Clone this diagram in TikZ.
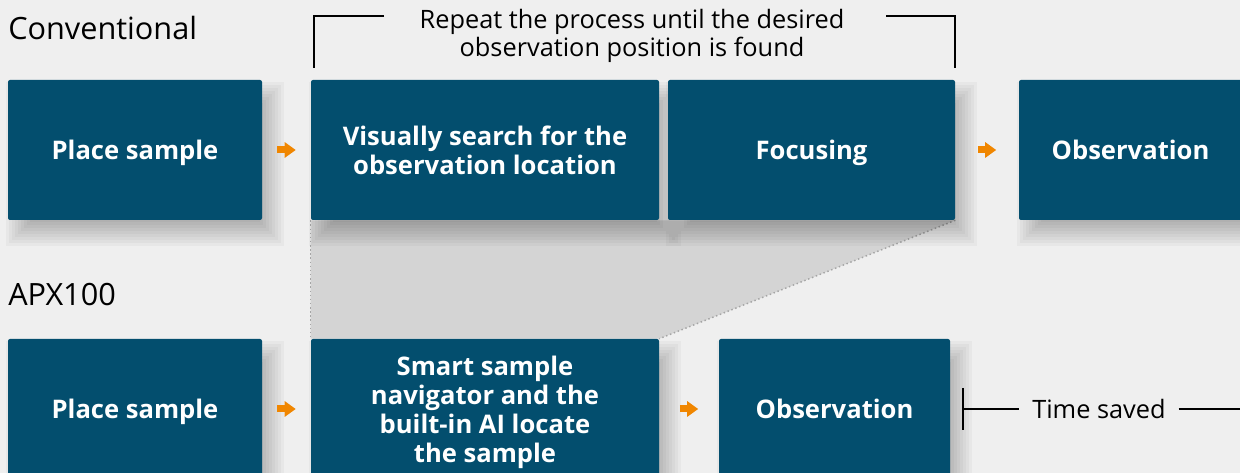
\documentclass[tikz,border=0pt]{standalone}
\usepackage{fontspec}
\setmainfont{Open Sans}
\usetikzlibrary{arrows.meta,calc,backgrounds}
\definecolor{BoxBlue}{RGB}{3,78,110}
\definecolor{StepOrange}{RGB}{240,134,0}
\definecolor{PageGray}{RGB}{239,239,239}
\definecolor{ZoomGray}{RGB}{212,212,212}
\definecolor{DotGray}{RGB}{165,165,165}

\tikzset{
  stepbox/.style={fill=BoxBlue, text=white, rounded corners=1.5pt, inner sep=0pt,
    minimum height=105pt, text depth=0pt, align=center, font=\fontsize{19.2}{21.75}\selectfont\bfseries},
  flowarrow/.style={StepOrange, line width=5.25pt, -{Triangle[width=11.25pt,length=8.25pt]},
    shorten <=#1, shorten >=#1},
  rowlabel/.style={anchor=west, inner sep=0pt, font=\fontsize{23}{27}\selectfont},
  note/.style={inner sep=0pt, align=center, font=\fontsize{19}{21}\selectfont},
  bracketline/.style={line width=1.7pt},
}

\begin{document}
\begin{tikzpicture}[x=0.75pt,y=0.75pt,yscale=-1,xscale=1]
  \useasboundingbox (0,0) rectangle (1240,473);
  \clip (0,0) rectangle (1240,473);

  % Text Node
  \node [rowlabel] (conv) at (8,28) {Conventional};
  % Text Node
  \node [rowlabel] (apx) at (8,295) {APX100};

  %Shape: Rectangle (conventional row)
  \node [stepbox, minimum width=190.5pt] (place1) at (135,150) {Place sample};
  \node [stepbox, minimum width=261pt] (search) at (485,150) {Visually search for the\\observation location};
  \node [stepbox, minimum width=215.25pt] (focus) at (811.5,150) {Focusing};
  \node [stepbox, minimum width=167.25pt] (obs1) at (1130.5,150) {Observation};

  %Shape: Rectangle (APX100 row)
  \node [stepbox, minimum width=190.5pt] (place2) at (135,409) {Place sample};
  \node [stepbox, minimum width=261pt] (smart) at (485,409) {Smart sample\\navigator and the\\built-in AI locate\\the sample};
  \node [stepbox, minimum width=173.25pt] (obs2) at (834.5,409) {Observation};

  %Straight Lines (orange arrows)
  \draw [flowarrow=11.25pt] (place1.east) -- (search.west) ;
  \draw [flowarrow=16.9pt] (focus.east) -- (obs1.west) ;
  \draw [flowarrow=11.25pt] (place2.east) -- (smart.west) ;
  \draw [flowarrow=15.4pt] (smart.east) -- (obs2.west) ;

  % Text Node
  \node [note] (repeat) at (632,36) {Repeat the process until the desired\\observation position is found};
  %Straight Lines
  \draw [bracketline] (384,16) -| (314,68) ;
  \draw [bracketline] (886,16) -| (955,68) ;

  % Text Node
  \node [note, inner xsep=9.5pt] (saved) at (1099,409) {Time saved};
  \coordinate (tsleft) at (963,409);
  \coordinate (tsright) at (1240,409);
  %Straight Lines
  \draw [bracketline] (963,388) -- (963,430) ;
  \draw [bracketline] (tsleft) -- (saved.west) ;
  \draw [bracketline] (saved.east) -- (tsright) ;

  \begin{scope}[on background layer]
    \fill [PageGray] (0,0) rectangle (1240,473);
    %Shape: Polygon
    \fill [ZoomGray] (search.south west) -- (focus.south east) -- (smart.north east) -- (smart.north west) -- cycle;
    \draw [DotGray, dotted, line width=1.1pt] (search.south west) -- (smart.north west);
    \draw [DotGray, dotted, line width=1.1pt] (focus.south east) -- (smart.north east);
    % soft shadows
    \foreach \b in {place1,search,focus,obs1,place2,smart,obs2}
      \foreach \e in {-12,-9,...,12}
        \fill [black, opacity=0.03] ($(\b.north west)+(10-\e,14-\e)$) rectangle ($(\b.south east)+(10+\e,14+\e)$);
  \end{scope}
\end{tikzpicture}
\end{document}
